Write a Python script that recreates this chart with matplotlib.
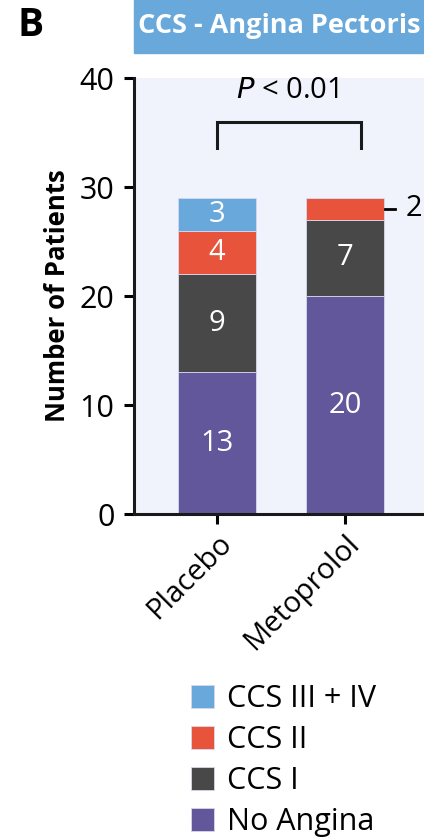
import matplotlib
matplotlib.use('Agg')
from matplotlib import pyplot as plt
from matplotlib import transforms
from matplotlib.patches import Rectangle

plt.rcParams['font.family'] = ['Open Sans', 'DejaVu Sans']

groups = ['Placebo', 'Metoprolol']
categories = ['No Angina', 'CCS I', 'CCS II', 'CCS III + IV']
counts = {
    'No Angina': [13, 20],
    'CCS I': [9, 7],
    'CCS II': [4, 2],
    'CCS III + IV': [3, 0],
}
colors = {
    'No Angina': '#63579B',
    'CCS I': '#484848',
    'CCS II': '#E8533C',
    'CCS III + IV': '#68A8DB',
}
p_text = '$\\it{P}$ < 0.01'

fig = plt.figure(figsize=(4.24, 8.38), dpi=100)
ax = fig.add_axes([0.316, 0.3866, 0.684, 0.5203])
ax.set_facecolor('#F0F3FC')

x = list(range(len(groups)))
bottom = [0, 0]
handles = {}
for cat in categories:
    vals = counts[cat]
    b = ax.bar(x, vals, bottom=bottom, width=0.61, color=colors[cat],
               edgecolor='#D6D8EE', linewidth=0.6, label=cat, zorder=2)
    handles[cat] = b
    for i, v in enumerate(vals):
        # small segments get a side label instead of an inside one
        if v >= 3:
            ax.text(x[i], bottom[i] + v / 2, str(v), color='white', fontsize=21,
                    ha='center', va='center', zorder=3)
        elif v > 0:
            ax.plot([x[i] + 0.31, x[i] + 0.39], [bottom[i] + v / 2] * 2,
                    color='black', lw=2, clip_on=False, zorder=3)
            ax.text(x[i] + 0.47, bottom[i] + v / 2, str(v), fontsize=21,
                    ha='left', va='center', clip_on=False)
    bottom = [bottom[i] + vals[i] for i in range(len(vals))]

# significance bracket
ax.plot([0, 0, 1.125, 1.125], [33.6, 36, 36, 33.6], color='#1a1a1a', lw=2.2,
        solid_joinstyle='miter', zorder=3)
ax.text(0.55, 38.9, p_text, fontsize=21, ha='center', va='center')

ax.set_xlim(-0.648, 1.617)
ax.set_ylim(0, 40)
ax.set_yticks([0, 10, 20, 30, 40])
ax.set_xticks(x)
ax.set_xticklabels(groups, rotation=45, ha='right', rotation_mode='anchor',
                   fontsize=21)
shift = transforms.ScaledTranslation(14 / 100, 0, fig.dpi_scale_trans)
for lbl in ax.get_xticklabels():
    lbl.set_transform(lbl.get_transform() + shift)
ax.tick_params(axis='y', labelsize=22, width=2.2, length=7, pad=7)
ax.tick_params(axis='x', width=2.2, length=7, pad=4)
for s in ['top', 'right']:
    ax.spines[s].set_visible(False)
for s in ['left', 'bottom']:
    ax.spines[s].set_linewidth(2.2)
    ax.spines[s].set_color('#1a1a1a')
ax.set_ylabel('Number of Patients', fontsize=18.5, fontweight='bold', labelpad=6)

# header strip
fig.patches.append(Rectangle((0.316, 0.937), 0.684, 0.063, transform=fig.transFigure,
                             color='#68A8DB', zorder=0))
fig.text(0.658, 0.9695, 'CCS - Angina Pectoris', color='white', fontsize=19.5,
         fontweight='bold', ha='center', va='center')
fig.text(0.042, 0.969, 'B', fontsize=28, fontweight='bold', ha='left', va='center')

leg_order = ['CCS III + IV', 'CCS II', 'CCS I', 'No Angina']
fig.legend([handles[c] for c in leg_order], leg_order, loc='upper left',
           bbox_to_anchor=(0.45, 0.184), frameon=False, fontsize=22,
           handlelength=0.77, handleheight=0.77, handletextpad=0.4,
           labelspacing=0.36, borderaxespad=0, borderpad=0)

fig.savefig('out.png', dpi=100)
